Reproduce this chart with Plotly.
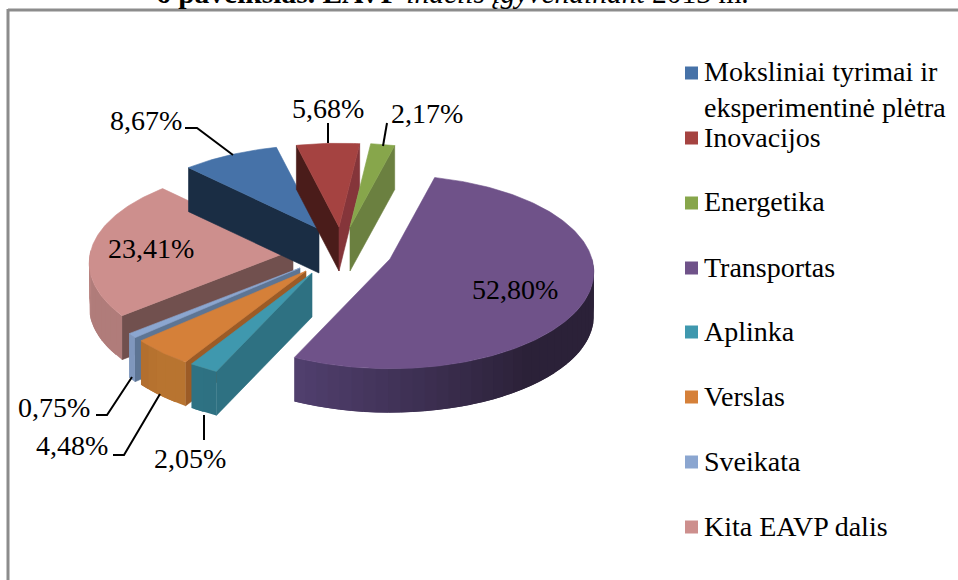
import math
import plotly.graph_objects as go

# ---- data
CATEGORIES = ["Moksliniai tyrimai ir<br>eksperimentinė plėtra", "Inovacijos", "Energetika",
              "Transportas", "Aplinka", "Verslas", "Sveikata", "Kita EAVP dalis"]
SHARES = [8.67, 5.68, 2.17, 52.80, 2.05, 4.48, 0.75, 23.41]

# ---- styles
TOP = ["#4672a8", "#a54341", "#87a64b", "#6f5289", "#3f98ae", "#d58039", "#8ba6d0", "#cd8f8d"]
WALL = ["#1a2d44", "#4a1c1a", "#6b8040", "#3c2e50", "#2e7182", "#9c5b26", "#5d7594", "#71504e"]
WALL_R = ["#1a2d44", "#85353a", "#6b8040", "#3c2e50", "#2e7182", "#9c5b26", "#5d7594", "#71504e"]
RIM_A = ["#2c4a6e", "#6e2c2b", "#5f7232", "#524070", "#2f7888", "#b06c2e", "#7f97bd", "#b98280"]
RIM_B = ["#2c4a6e", "#6e2c2b", "#5f7232", "#2b2138", "#2e7182", "#b87430", "#7f97bd", "#b07c7a"]
APEX = [(319, 229), (339, 227), (350, 227), (390, 259), (312, 273), (306, 271), (300, 268), (293, 250)]
DRAW_ORDER = [7, 6, 5, 4, 0, 1, 2, 3]
A, B, K, DEPTH, START = 202, 95, 0.134, 44, 315.0
FONT = "Liberation Serif, Times New Roman, serif"

# angular spans from the values
spans, t = [], START
for v in SHARES:
    spans.append((t, t + v * 3.6))
    t += v * 3.6


def proj(apex, deg):
    th = math.radians(deg)
    s, c = math.sin(th), math.cos(th)
    d = 1 + K * c
    return apex[0] + A * s / d, apex[1] - B * c / d


def poly(fig, pts, color, stroke=0.6):
    xs = [p[0] for p in pts] + [pts[0][0]]
    ys = [p[1] for p in pts] + [pts[0][1]]
    fig.add_trace(go.Scatter(x=xs, y=ys, mode="lines", fill="toself", fillcolor=color,
                             line=dict(color=color, width=stroke), hoverinfo="skip", showlegend=False))


def mix(c1, c2, f):
    a = [int(c1[i:i + 2], 16) for i in (1, 3, 5)]
    b = [int(c2[i:i + 2], 16) for i in (1, 3, 5)]
    return "#" + "".join(f"{round(x + (y - x) * f):02x}" for x, y in zip(a, b))


fig = go.Figure()

for i in DRAW_ORDER:
    ap, (t0, t1) = APEX[i], spans[i]
    p0, p1 = proj(ap, t0), proj(ap, t1)
    mid = proj(ap, (t0 + t1) / 2)
    down = lambda p: (p[0], p[1] + DEPTH)
    for corner, col in ((p0, WALL[i]), (p1, WALL_R[i])):
        ex, ey = corner[0] - ap[0], corner[1] - ap[1]
        mx, my = mid[0] - ap[0], mid[1] - ap[1]
        # a cut wall shows only when the slice lies above that edge on screen
        cross_m = ex * my - ey * mx
        cross_d = ex * DEPTH
        if cross_m * cross_d < 0:
            poly(fig, [ap, corner, down(corner), down(ap)], col)
    # outer rim, in shaded bands that overlap so no seams show (angles run past 360)
    for turn in (0.0, 360.0):
        lo, hi = max(t0, 90.0 + turn), min(t1, 270.0 + turn)
        if lo < hi:
            n = max(1, int((hi - lo) / 3))
            for j in range(n):
                a0 = lo + (hi - lo) * j / n
                a1 = min(hi, lo + (hi - lo) * (j + 1) / n + 3.0)
                f = min(1.0, (hi - a0) / max(1e-6, (hi - lo) * 0.55))
                steps = 4
                top = [proj(ap, a0 + (a1 - a0) * m / steps) for m in range(steps + 1)]
                poly(fig, top + [down(p) for p in reversed(top)], mix(RIM_A[i], RIM_B[i], f), stroke=0)
    # top face
    steps = max(4, int(t1 - t0))
    arc = [proj(ap, t0 + (t1 - t0) * j / steps) for j in range(steps + 1)]
    poly(fig, [ap] + arc, TOP[i])

# leader lines
LEADERS = [[(185, 128), (197, 128), (233, 155)], [(328, 123), (328, 143)], [(387, 123), (383, 146)],
           None, [(204, 415), (204, 440)], [(113, 455), (124, 455), (160, 394)],
           [(96, 415), (107, 415), (132, 377)], None]
for pts in LEADERS:
    if pts:
        fig.add_trace(go.Scatter(x=[p[0] for p in pts], y=[p[1] for p in pts], mode="lines",
                                 line=dict(color="#000000", width=2), hoverinfo="skip", showlegend=False))

# legend squares
LEG_Y = [73, 138, 203, 268, 332, 397, 462, 527]
fig.add_trace(go.Scatter(x=[691.5] * 8, y=LEG_Y, mode="markers",
                         marker=dict(symbol="square", size=13, color=TOP, line=dict(width=0)),
                         hoverinfo="skip", showlegend=False))

ann = []
LEG_TEXT_Y = [89, 137, 201, 267, 331, 396, 461, 526]
for name, y in zip(CATEGORIES, LEG_TEXT_Y):
    ann.append(dict(x=702.5, y=y, text=name, xanchor="left", yanchor="middle", align="left",
                    showarrow=False, borderpad=0, font=dict(family=FONT, size=28, color="#000000")))
LABEL_POS = [(146, 120), (328, 108), (427, 113), (515, 289), (190, 458), (72, 445), (54, 407), (151, 248)]
for v, (x, y) in zip(SHARES, LABEL_POS):
    ann.append(dict(x=x, y=y, text=f"{v:.2f}".replace(".", ",") + "%", showarrow=False,
                    xanchor="center", yanchor="middle",
                    font=dict(family=FONT, size=28, color="#000000")))
# heading line, cut by the top of the image as in the reference
ann.append(dict(x=452, y=10, text="<b>6 paveikslas. EAVP</b> <i>indėlis įgyvendinant</i> 2013 m.",
                showarrow=False, xanchor="center", yanchor="bottom", borderpad=0,
                font=dict(family=FONT, size=29.5, color="#000000")))

fig.update_layout(
    width=958, height=580, margin=dict(l=0, r=0, t=0, b=0),
    paper_bgcolor="#ffffff", plot_bgcolor="#ffffff", showlegend=False,
    xaxis=dict(range=[0, 958], visible=False, fixedrange=True),
    yaxis=dict(range=[580, 0], visible=False, fixedrange=True),
    annotations=ann,
    shapes=[dict(type="line", x0=8, x1=958, y0=10, y1=10, line=dict(color="#8c8c8c", width=3), layer="below"),
            dict(type="line", x0=8, x1=8, y0=9, y1=580, line=dict(color="#8c8c8c", width=3), layer="below")],
)
fig.write_html("out.html", config={"displayModeBar": False}, default_width="958px", default_height="580px",
               post_script="document.body.style.margin='0';document.documentElement.style.overflow='hidden';")
